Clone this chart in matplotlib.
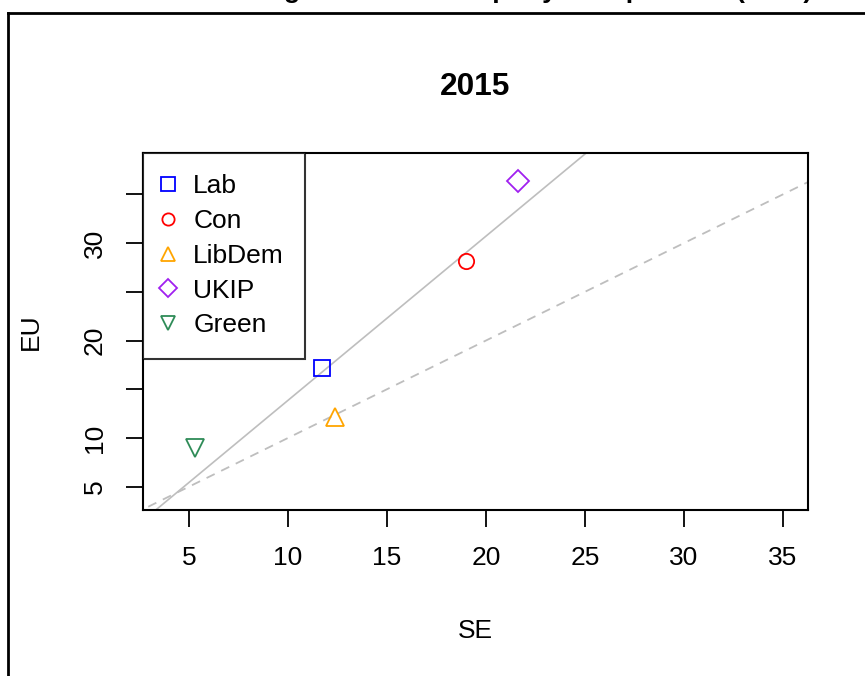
import numpy as np
import matplotlib
matplotlib.use("Agg")
import matplotlib.pyplot as plt
from matplotlib.lines import Line2D

# vote shares (%)
parties = ["Lab", "Con", "LibDem", "UKIP", "Green"]
se_share = [11.7, 19.0, 12.4, 21.6, 5.3]
eu_share = [17.2, 28.2, 12.2, 36.4, 9.0]
colours = ["blue", "red", "orange", "#A020F0", "#2E8B57"]
markers = ["s", "o", "^", "D", "v"]
msizes = [12, 11, 13, 11, 13]

x_ticks = [5, 10, 15, 20, 25, 30, 35]
y_ticks = [5, 10, 15, 20, 25, 30, 35]
y_labels = ["5", "10", "", "20", "", "30", ""]

plt.rcParams["font.family"] = ["Liberation Sans", "DejaVu Sans"]
fs = 19

W, H = 865, 676
fig = plt.figure(figsize=(W / 100, H / 100), dpi=100)
ax = fig.add_axes([143 / W, 1 - 510 / H, (808 - 143) / W, (510 - 153) / H])

# regression line of EU on SE, and y = x reference
slope, icpt = np.polyfit(se_share, eu_share, 1)
xx = np.array([0, 40])
ax.plot(xx, icpt + slope * xx, color="#BEBEBE", lw=1.2, zorder=1)
ax.plot(xx, xx, color="#BEBEBE", lw=1.3, ls=(0, (5, 4)), zorder=1)

handles = []
for p, sx, ey, c, m, ms in zip(parties, se_share, eu_share, colours, markers, msizes):
    ax.plot(sx, ey, marker=m, ms=ms, mfc="none", mec=c, mew=1.3, ls="none", zorder=3)
    handles.append(Line2D([], [], marker=m, ms=ms * 0.8, mfc="none", mec=c, mew=1.3,
                          ls="none", label=p))

ax.set_xlim(2.68, 36.26)
ax.set_ylim(2.61, 39.24)
ax.set_xticks(x_ticks)
ax.set_xticklabels([str(t) for t in x_ticks])
ax.set_yticks(y_ticks)
ax.set_yticklabels(y_labels, rotation=90, va="center")
ax.tick_params(length=12, width=1.3, labelsize=fs, pad=14)
for s in ax.spines.values():
    s.set_linewidth(1.5)

ax.set_xlabel("SE", fontsize=fs, labelpad=35.5)
ax.set_ylabel("EU", fontsize=fs, labelpad=29)

leg = ax.legend(handles=handles, loc="upper left", borderaxespad=0, fontsize=fs,
                frameon=True, fancybox=False, edgecolor="black", handlelength=0.3,
                handletextpad=0.8, labelspacing=0.41, borderpad=0.8)
leg.get_frame().set_linewidth(1.5)

fig.text(475.5 / W, 1 - 87 / H, "2015", fontsize=fs * 1.2, fontweight="bold",
         ha="center", va="center")

# outer title, mostly cut off by the top edge of the picture (as in the source)
fig.text(96 / W, 1 + 1.5 / H, "EU election vs general election party vote position (2015)",
         fontsize=fs, fontweight="bold", ha="left", va="baseline")

# outer panel frame
fig.add_artist(Line2D([8 / W, 1.01], [1 - 12.7 / H, 1 - 12.7 / H], color="black", lw=2,
                      transform=fig.transFigure))
fig.add_artist(Line2D([8 / W, 8 / W], [1 - 12.7 / H, -0.01], color="black", lw=2,
                      transform=fig.transFigure))

fig.savefig("out.png", dpi=100)
